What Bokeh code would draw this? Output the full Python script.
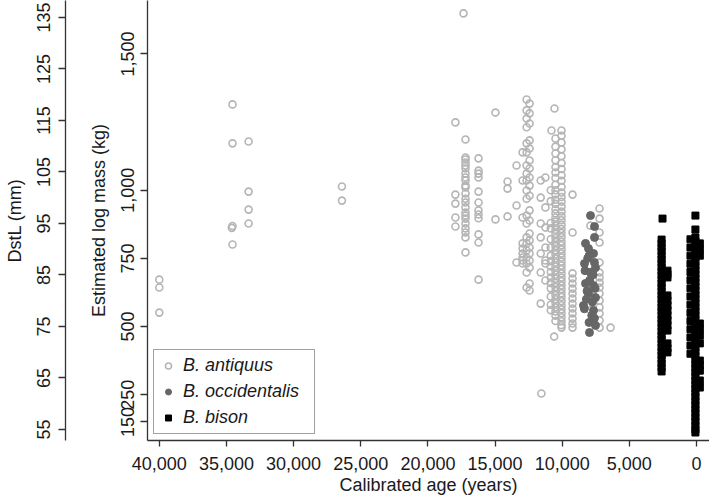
from bokeh.plotting import figure
from bokeh.models import (Range1d, LinearAxis, FixedTicker, NumeralTickFormatter,
                          Legend, LegendItem, ColumnDataSource)
from bokeh.embed import file_html
from bokeh.resources import INLINE

FONT = "Liberation Sans"

# ---------------- data ----------------
x_ticks = [40000, 35000, 30000, 25000, 20000, 15000, 10000, 5000, 0]
mass_ticks = [150, 250, 500, 750, 1000, 1500]
dstl_ticks = [55, 65, 75, 85, 95, 105, 115, 125, 135]

antiquus_age = (
    [40000] * 3 + [34550] * 4 + [34600] + [33350] * 4 + [26400] * 2 +
    [17950] * 5 + [17350, 17200] + [17200] * 22 + [16230] * 12 +
    [14970] * 2 + [14070] * 3 + [13400] * 3 +
    [12650, 12430] * 20 + [12950] * 9 +
    [11600, 11250, 11600, 11250, 11600, 11250, 11600, 11250, 11600, 11250, 11600, 11250, 11600, 11250] +
    [11550, 10800, 10573] +
    [10500] * 40 + [10050] * 44 + [10600] + [10850] * 16 +
    [9230] * 14 + [7220] * 15 + [6400] + [7900] * 5
)
antiquus_mass = (
    [672, 643, 551] + [1315, 1172, 869, 801] + [862] + [1179, 995, 929, 878] + [1014, 962] +
    [1249, 984, 951, 900, 867] + [1649, 1186] +
    [1120, 1113, 1102, 1091, 1080, 1061, 1047, 1036, 1017, 1010, 988, 969, 955, 937, 918, 907,
     896, 878, 860, 845, 827, 772] +
    [1117, 1072, 1061, 1047, 995, 955, 926, 911, 897, 838, 808, 672] +
    [1285, 893] + [1032, 1006, 904] + [1091, 944, 735] +
    [1333, 1318, 1293, 1282, 1263, 1245, 1231, 1183, 1172, 1153, 1139, 1109, 1091, 1080, 1061,
     1047, 1036, 1017, 999, 980, 969, 926, 907, 889, 878, 841, 827, 816, 805, 790, 779, 768,
     753, 742, 731, 716, 698, 658, 643, 632] +
    [1139, 1036, 900, 805, 786, 768, 753, 742, 731] +
    [973, 1047, 1036, 937, 878, 790, 768, 731, 698, 669, 584, 863, 827, 742] +
    [254, 1219, 1300] +
    [1190, 1160, 1135, 1110, 1085, 1065, 1045, 1020, 1000, 985, 965, 950, 930, 915, 900, 885,
     870, 855, 840, 825, 810, 795, 780, 765, 750, 735, 720, 705, 690, 675, 660, 645, 630, 615,
     600, 585, 570, 555, 540, 520] +
    [1219, 1200, 1175, 1150, 1125, 1100, 1078, 1055, 1035, 1012, 992, 975, 958, 940, 922, 905,
     890, 873, 858, 843, 828, 812, 798, 783, 768, 753, 738, 724, 710, 695, 680, 666, 651, 637,
     622, 608, 593, 578, 563, 549, 534, 519, 505, 496] +
    [463] +
    [1000, 960, 880, 860, 820, 790, 760, 740, 720, 700, 680, 660, 640, 610, 580, 560] +
    [984, 845, 695, 676, 658, 639, 621, 603, 584, 566, 548, 529, 511, 496] +
    [933, 896, 845, 808, 735, 698, 680, 661, 643, 621, 595, 570, 548, 522, 496] +
    [496] + [870, 760, 700, 620, 560]
)

occidentalis_age = [7893, 7595, 7595, 8265, 8042, 7669, 8340, 7520, 7893, 8265, 7669, 8042,
                    7520, 8414, 7669, 7520, 7968, 8100, 7700, 8200, 7800,
                    8000, 7600, 8300, 7950, 7550, 8150, 7750, 8350, 7600, 8000]
occidentalis_mass = [907, 867, 827, 805, 786, 768, 731, 716, 698, 658, 650, 621,
                     606, 577, 559, 504, 478, 750, 690, 600, 540,
                     760, 735, 705, 670, 640, 630, 590, 565, 530, 515]

bison_age = (
    [2530] + [2600] * 34 + [2160] * 14 +
    [80, 80] + [80] * 49 + [450] * 15 + [-250] * 12
)
bison_mass = (
    [896] +
    [819, 805, 790, 776, 761, 746, 732, 717, 702, 688, 673, 658, 644, 629, 614, 600, 585, 570,
     556, 541, 526, 512, 497, 482, 467, 453, 438, 423, 408, 394, 379, 364, 350, 335] +
    [705, 692, 680, 614, 595, 577, 559, 540, 522, 504, 485, 438, 420, 405] +
    [907, 856] +
    [827, 812, 797, 782, 767, 752, 737, 722, 707, 692, 677, 662, 647, 632, 617, 602, 587, 572,
     557, 542, 527, 512, 497, 482, 467, 452, 437, 422, 407, 392, 377, 362, 347, 332, 317, 302,
     287, 272, 257, 242, 227, 212, 197, 182, 167, 152, 137, 122, 111] +
    [820, 790, 760, 730, 700, 670, 640, 610, 580, 550, 520, 490, 460, 430, 400] +
    [805, 783, 760, 511, 490, 466, 438, 375, 357, 338, 302, 276]
)

# ---------------- figure ----------------
p = figure(width=709, height=500, output_backend="svg", toolbar_location=None,
           x_range=Range1d(40879, -968), y_range=Range1d(81.65, 1696.3),
           min_border_left=147, min_border_right=0, min_border_top=0, min_border_bottom=60)
p.extra_y_ranges = {"dstl": Range1d(52.86, 138.3)}
p.outline_line_color = None
p.xgrid.visible = False
p.ygrid.visible = False
p.background_fill_color = "white"
p.border_fill_color = "white"

AX_COL = "#333333"
TXT_COL = "#1a1a1a"

def style_axis(ax, tick_out=7):
    ax.axis_line_color = AX_COL
    ax.axis_line_width = 1.3
    ax.major_tick_line_color = AX_COL
    ax.major_tick_line_width = 1.3
    ax.major_tick_in = 0
    ax.major_tick_out = tick_out
    ax.minor_tick_line_color = None
    ax.major_label_text_font = FONT
    ax.major_label_text_font_size = "18px"
    ax.major_label_text_color = TXT_COL
    ax.axis_label_text_font = FONT
    ax.axis_label_text_font_size = "18px"
    ax.axis_label_text_font_style = "normal"
    ax.axis_label_text_color = TXT_COL

xax = p.xaxis[0]
style_axis(xax, tick_out=6)
xax.ticker = FixedTicker(ticks=x_ticks)
xax.formatter = NumeralTickFormatter(format="0,0")
xax.axis_label = "Calibrated age (years)"
xax.major_label_standoff = 10
xax.axis_label_standoff = 2

yax = p.yaxis[0]
style_axis(yax)
yax.ticker = FixedTicker(ticks=mass_ticks)
yax.formatter = NumeralTickFormatter(format="0,0")
yax.axis_label = "Estimated log mass (kg)"
yax.major_label_orientation = "vertical"
yax.major_label_standoff = 6
yax.axis_label_standoff = 10

# invisible spacer between the two left axes
spacer = LinearAxis(ticker=FixedTicker(ticks=[500]), axis_line_color="white",
                    major_tick_line_color="white", minor_tick_line_color=None,
                    major_tick_out=20, major_tick_in=0, major_label_standoff=0,
                    major_label_overrides={500: ""}, axis_label=None)
p.add_layout(spacer, "left")

dax = LinearAxis(y_range_name="dstl", axis_label="DstL (mm)")
style_axis(dax)
dax.ticker = FixedTicker(ticks=dstl_ticks)
dax.major_label_orientation = "vertical"
dax.major_label_standoff = 8
dax.axis_label_standoff = 10
p.add_layout(dax, "left")

# ---------------- glyphs ----------------
src_a = ColumnDataSource(dict(x=antiquus_age, y=antiquus_mass))
src_o = ColumnDataSource(dict(x=occidentalis_age, y=occidentalis_mass))
src_b = ColumnDataSource(dict(x=bison_age, y=bison_mass))

r_a = p.scatter("x", "y", source=src_a, marker="circle", size=7, fill_color=None,
                line_color="#b5b5b5", line_width=1.6)
r_o = p.scatter("x", "y", source=src_o, marker="circle", size=8, fill_color="#666666",
                line_color="#666666", line_width=1)
r_b = p.scatter("x", "y", source=src_b, marker="square", size=7, fill_color="black",
                line_color="black", line_width=1)

legend = Legend(items=[
    LegendItem(label="B. antiquus", renderers=[r_a]),
    LegendItem(label="B. occidentalis", renderers=[r_o]),
    LegendItem(label="B. bison", renderers=[r_b]),
], location="bottom_left")
legend.margin = 6
legend.padding = 4
legend.spacing = 3
legend.glyph_width = 20
legend.glyph_height = 15
legend.label_height = 23
legend.label_width = 127
legend.label_standoff = 5
legend.label_text_font = FONT
legend.label_text_font_size = "18px"
legend.label_text_font_style = "italic"
legend.label_text_color = TXT_COL
legend.border_line_color = "#444444"
legend.border_line_width = 1.5
legend.background_fill_color = "white"
legend.background_fill_alpha = 1
p.add_layout(legend, "center")

open("out.html", "w").write(file_html(p, INLINE))
